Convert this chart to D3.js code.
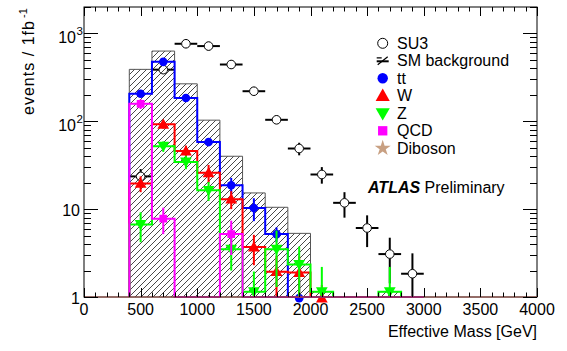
<!DOCTYPE html>
<html>
<head>
<meta charset="utf-8">
<script src="https://cdn.jsdelivr.net/npm/d3@7"></script>
<style>
  body { margin: 0; background: #fff; }
  svg { display: block; }
  text { font-family: "Liberation Sans", Arial, Helvetica, sans-serif; }
</style>
</head>
<body>
<div id="chart"></div>
<script>
// bins of 200 GeV, lower edges
const binLow = [400, 600, 800, 1000, 1200, 1400, 1600, 1800, 2000, 2200, 2400, 2600, 2800];

const su3    = [23.6, 387, 763, 718, 443, 220, 104, 49, 24.8, 11.8, 6.1, 3.08, 1.84];
const su3Err = [5, 20, 28, 27, 21, 15, 11, 8, 5.3, 3.8, 2.4, 1.65, 1.3];

const smTotal = [390, 630, 267, 103, 40, 15.3, 10.5, 5.3, 1.15, 0, 0, 1.15, 0];

const ttbar    = [206, 475, 184, 58, 18.7, 10.3, 5.2, 0.97, 0, 0, 0, 0, 0];
const ttbarErr = [10, 15, 9, 5, 4, 3, 1.0, 0.6, 0, 0, 0, 0, 0];
const wjets    = [19.6, 92.5, 45.8, 25.9, 13, 3.7, 1.94, 1.9, 0.97, 0, 0, 0, 0];
const wjetsErr = [4, 10, 7, 6, 3, 1.4, 1.0, 1.0, 0.4, 0, 0, 0, 0];
const zjets    = [6.7, 52, 34.5, 16.4, 3.5, 1.15, 3.5, 2.35, 1.15, 0, 0, 1.15, 0];
const zjetsErr = [2.5, 7, 6, 4, 1.5, 0.8, 2.2, 1.4, 1.05, 0, 0, 1.05, 0];
const qcd      = [158, 7.8, 0, 0, 5.2, 0, 0, 0, 0, 0, 0, 0, 0];
const qcdErr   = [20, 2.6, 0, 0, 2.2, 0, 0, 0, 0, 0, 0, 0, 0];

const xTicks = [0, 500, 1000, 1500, 2000, 2500, 3000, 3500, 4000];
const yTicks = [1, 10, 100, 1000];
const yTickLabels = [["1", ""], ["10", ""], ["10", "2"], ["10", "3"]];

const legendItems = [
  {label: "SU3", kind: "open"},
  {label: "SM background", kind: "hatch"},
  {label: "tt", kind: "circle", color: "#0000ff"},
  {label: "W", kind: "up", color: "#ff0000"},
  {label: "Z", kind: "down", color: "#00ff00"},
  {label: "QCD", kind: "square", color: "#ff00ff"},
  {label: "Diboson", kind: "star", color: "#c8a082"}
];

const W = 567, H = 351;
const frame = {left: 84, right: 537, top: 7, bottom: 297};
const binWidth = 200;

const svg = d3.select("#chart").append("svg")
    .attr("width", W)
    .attr("height", H);

const x = d3.scaleLinear().domain([0, 4000]).range([frame.left, frame.right]);
const y = d3.scaleLog().domain([1, 2000]).range([frame.bottom, frame.top]);
const yc = v => y(Math.max(v, 1));

const defs = svg.append("defs");
defs.append("pattern")
    .attr("id", "hatch")
    .attr("patternUnits", "userSpaceOnUse")
    .attr("width", 6).attr("height", 6)
  .append("path")
    .attr("d", "M-1,1 L1,-1 M0,6 L6,0 M5,7 L7,5")
    .attr("stroke", "#1a1a1a")
    .attr("stroke-width", 0.8);

// SU3 signal (drawn first, the hatch covers it)
const su3g = svg.append("g");
binLow.forEach((lo, i) => {
  const cx = x(lo + binWidth / 2), cy = y(su3[i]), r = 4.3;
  su3g.append("line")
      .attr("x1", x(lo)).attr("x2", cx - r)
      .attr("y1", cy).attr("y2", cy);
  su3g.append("line")
      .attr("x1", cx + r).attr("x2", x(lo + binWidth))
      .attr("y1", cy).attr("y2", cy);
  su3g.append("line")
      .attr("x1", cx).attr("x2", cx)
      .attr("y1", y(su3[i] + su3Err[i])).attr("y2", cy - r);
  su3g.append("line")
      .attr("x1", cx).attr("x2", cx)
      .attr("y1", cy + r).attr("y2", yc(su3[i] - su3Err[i]));
  su3g.append("circle")
      .attr("cx", cx).attr("cy", cy).attr("r", r)
      .attr("fill", "#fff").attr("stroke", "#000").attr("stroke-width", 1);
});
su3g.selectAll("line").attr("stroke", "#000").attr("stroke-width", 2);

// SM background hatched histogram
svg.append("g").selectAll("rect")
  .data(binLow.map((lo, i) => ({lo, v: smTotal[i]})).filter(d => d.v > 0))
  .join("rect")
    .attr("x", d => x(d.lo))
    .attr("width", d => x(d.lo + binWidth) - x(d.lo))
    .attr("y", d => y(d.v))
    .attr("height", d => frame.bottom - y(d.v))
    .attr("fill", "url(#hatch)");

function stepPoints(vals) {
  const pts = [[binLow[0], 1]];
  vals.forEach((v, i) => {
    pts.push([binLow[i], Math.max(v, 1)]);
    pts.push([binLow[i] + binWidth, Math.max(v, 1)]);
  });
  pts.push([binLow[binLow.length - 1] + binWidth, 1]);
  return pts;
}
const stepLine = d3.line().x(d => x(d[0])).y(d => y(d[1]));

svg.append("path")
    .attr("d", stepLine(stepPoints(smTotal)))
    .attr("fill", "none")
    .attr("stroke", "#555")
    .attr("stroke-width", 1);

const series = [
  {vals: ttbar, errs: ttbarErr, color: "#0000ff", kind: "circle"},
  {vals: wjets, errs: wjetsErr, color: "#ff0000", kind: "up"},
  {vals: zjets, errs: zjetsErr, color: "#00ff00", kind: "down"},
  {vals: qcd,   errs: qcdErr,   color: "#ff00ff", kind: "square"}
];

function marker(g, kind, cx, cy, color, big) {
  const k = big ? 1.45 : 1;
  if (kind === "circle") {
    return g.append("circle").attr("cx", cx).attr("cy", cy)
        .attr("r", big ? 5.2 : 4.3).attr("fill", color);
  }
  if (kind === "open") {
    return g.append("circle").attr("cx", cx).attr("cy", cy).attr("r", 5)
        .attr("fill", "#fff").attr("stroke", "#000").attr("stroke-width", 1);
  }
  const type = {up: d3.symbolTriangle, down: d3.symbolTriangle,
                square: d3.symbolSquare, star: d3.symbolStar}[kind];
  const size = {up: 60, down: 60, square: 60, star: 55}[kind] * k;
  const rot = kind === "down" ? 180 : 0;
  const dy = kind === "up" ? 1 : (kind === "down" ? -1 : 0);
  return g.append("path")
      .attr("d", d3.symbol().type(type).size(size)())
      .attr("transform", `translate(${cx},${cy + dy}) rotate(${rot})`)
      .attr("fill", color);
}

series.forEach(s => {
  const g = svg.append("g");
  g.append("path")
      .attr("d", stepLine(stepPoints(s.vals)))
      .attr("fill", "none")
      .attr("stroke", s.color)
      .attr("stroke-width", 2);
  binLow.forEach((lo, i) => {
    const v = s.vals[i];
    if (!(v > 0)) return;
    const cx = x(lo + binWidth / 2);
    g.append("line")
        .attr("x1", cx).attr("x2", cx)
        .attr("y1", y(v + s.errs[i]))
        .attr("y2", Math.min(frame.bottom, yc(v - s.errs[i])))
        .attr("stroke", s.color).attr("stroke-width", 2);
    marker(g, s.kind, cx, y(v), s.color, false);
  });
});

// frame
svg.append("rect")
    .attr("x", frame.left).attr("y", frame.top)
    .attr("width", frame.right - frame.left)
    .attr("height", frame.bottom - frame.top)
    .attr("fill", "none").attr("stroke", "#000").attr("stroke-width", 1);
// empty bins of the stacked histograms lie along the bottom edge
svg.append("line")
    .attr("x1", frame.left + 1).attr("x2", frame.right)
    .attr("y1", frame.bottom).attr("y2", frame.bottom)
    .attr("stroke", "#a85a50").attr("stroke-width", 1.2);

// x ticks (inside, bottom and top)
const ticks = svg.append("g").attr("stroke", "#000").attr("stroke-width", 1);
d3.range(0, 4001, 100).forEach(t => {
  const len = t % 500 === 0 ? 9 : 4.5;
  const px = Math.round(x(t)) + 0.5;
  ticks.append("line").attr("x1", px).attr("x2", px)
      .attr("y1", frame.bottom).attr("y2", frame.bottom - len);
  ticks.append("line").attr("x1", px).attr("x2", px)
      .attr("y1", frame.top).attr("y2", frame.top + len);
});

// y ticks (log, majors at decades)
yTicks.forEach(dec => {
  for (let m = 1; m <= 9; m++) {
    const v = dec * m;
    if (v > 2000) break;
    const len = m === 1 ? 14 : 7;
    const py = Math.round(y(v)) + 0.5;
    ticks.append("line").attr("x1", frame.left).attr("x2", frame.left + len)
        .attr("y1", py).attr("y2", py);
    ticks.append("line").attr("x1", frame.right).attr("x2", frame.right - len)
        .attr("y1", py).attr("y2", py);
  }
});

// tick labels
svg.append("g").selectAll("text")
  .data(xTicks)
  .join("text")
    .attr("x", d => x(d))
    .attr("y", 315)
    .attr("text-anchor", "middle")
    .attr("font-size", 16)
    .text(d => d);

yTicks.forEach((t, i) => {
  const [base, sup] = yTickLabels[i];
  svg.append("text")
      .attr("x", sup ? 76 : 80)
      .attr("y", y(t) + (sup ? 10 : 6.5))
      .attr("text-anchor", "end")
      .attr("font-size", 16)
      .text(base);
  if (sup) {
    svg.append("text")
        .attr("x", 76.5)
        .attr("y", y(t) + 2)
        .attr("font-size", 11.5)
        .text(sup);
  }
});

// axis titles
svg.append("text")
    .attr("x", frame.right)
    .attr("y", 337)
    .attr("text-anchor", "end")
    .attr("font-size", 16)
    .text("Effective Mass [GeV]");

svg.append("text")
    .attr("transform", "translate(34,21) rotate(-90)")
    .attr("text-anchor", "end")
    .attr("font-size", 16)
    .attr("textLength", 94)
    .attr("lengthAdjust", "spacing")
    .text("events / 1fb");
svg.append("text")
    .attr("transform", "translate(27,18) rotate(-90)")
    .attr("text-anchor", "start")
    .attr("font-size", 11)
    .text("-1");

// legend
const lg = svg.append("g");
legendItems.forEach((d, i) => {
  const cy = 43.3 + i * 17.5;
  const cx = 382.7;
  if (d.kind === "hatch") {
    lg.append("path")
        .attr("d", `M${cx - 6},${cy + 0.5} L${cx + 6},${cy + 0.5}`)
        .attr("stroke", "#000").attr("stroke-width", 2).attr("fill", "none");
    lg.append("path")
        .attr("d", `M${cx - 5},${cy + 4} L${cx + 5},${cy - 4} M${cx - 6},${cy - 3} L${cx - 1},${cy - 3}`)
        .attr("stroke", "#000").attr("stroke-width", 1.2).attr("fill", "none");
  } else {
    marker(lg, d.kind, cx, cy, d.color, true);
  }
  lg.append("text")
      .attr("x", 397)
      .attr("y", cy + 5.5)
      .attr("font-size", 16)
      .text(d.label);
});

const atlas = svg.append("text")
    .attr("x", 368)
    .attr("y", 192.5)
    .attr("font-size", 16);
atlas.append("tspan")
    .attr("font-weight", "bold")
    .attr("font-style", "italic")
    .text("ATLAS");
atlas.append("tspan")
    .text(" Preliminary");
</script>
</body>
</html>
